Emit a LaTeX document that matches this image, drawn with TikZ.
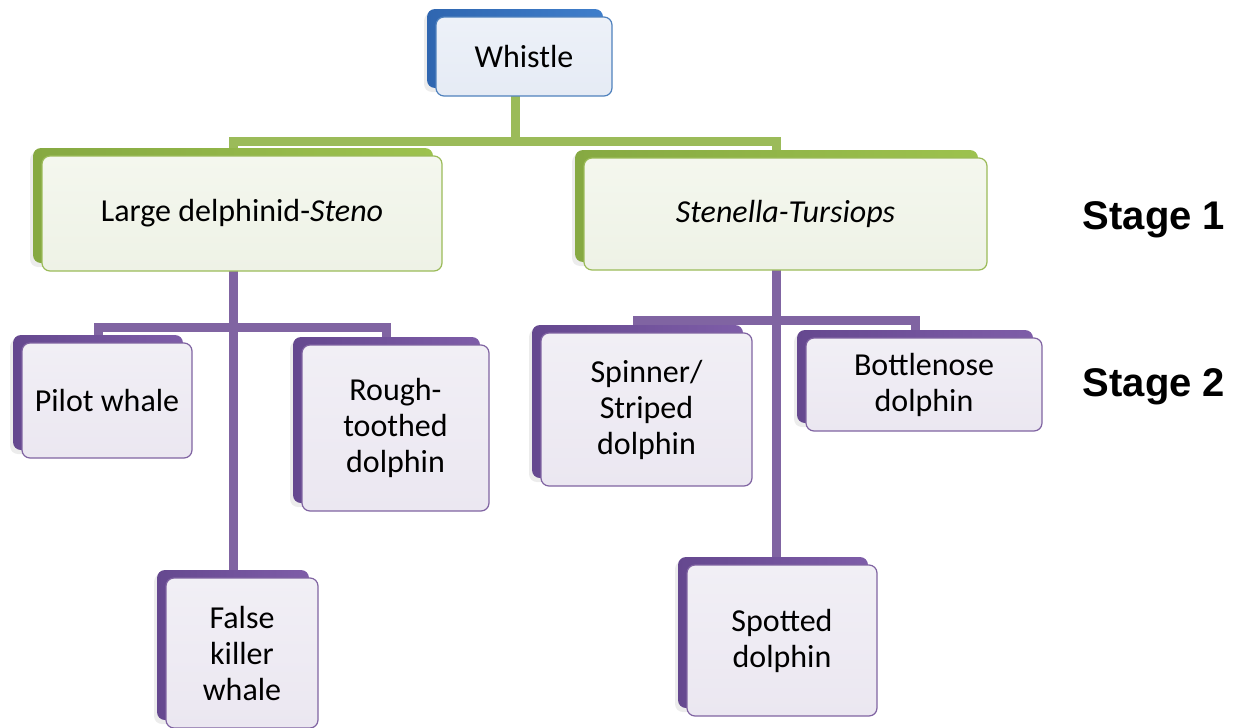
\documentclass[tikz,border=0pt]{standalone}
\usepackage{fontspec}
\setmainfont{Carlito}
\newfontfamily\stagefont{Liberation Sans}
\usetikzlibrary{backgrounds,shadows}
\definecolor{gLine}{HTML}{9BBB59}
\definecolor{pLine}{HTML}{8064A2}
\definecolor{bEdge}{HTML}{4F81BD}
\definecolor{bBackL}{HTML}{2F66B0}
\definecolor{bBackR}{HTML}{3F7ECB}
\definecolor{gBackL}{HTML}{86A942}
\definecolor{gBackR}{HTML}{9DC24E}
\definecolor{pBackL}{HTML}{65488F}
\definecolor{pBackR}{HTML}{7E5DA8}
\definecolor{bFrontT}{HTML}{EDF1F8}
\definecolor{bFrontB}{HTML}{E5EBF5}
\definecolor{gFrontT}{HTML}{F4F7EE}
\definecolor{gFrontB}{HTML}{EEF2E6}
\definecolor{pFrontT}{HTML}{F1EFF5}
\definecolor{pFrontB}{HTML}{EBE7F1}
\begin{document}
\begin{tikzpicture}[x=0.5pt,y=-0.5pt,
  every node/.style={inner sep=0pt, outer sep=0pt},
  backbox/.style={rounded corners=4pt, drop shadow={opacity=0.15, shadow xshift=-1.5pt, shadow yshift=-2pt}},
  bblue/.style={backbox, left color=bBackL, right color=bBackR},
  bgreen/.style={backbox, left color=gBackL, right color=gBackR},
  bpurple/.style={backbox, left color=pBackL, right color=pBackR},
  frontbox/.style={rounded corners=4pt, line width=0.6pt, align=center,
     font=\fontsize{16}{18}\selectfont},
  fblue/.style={frontbox, draw=bEdge, top color=bFrontT, bottom color=bFrontB},
  fgreen/.style={frontbox, draw=gLine, top color=gFrontT, bottom color=gFrontB},
  fpurple/.style={frontbox, draw=pLine, top color=pFrontT, bottom color=pFrontB},
  gline/.style={draw=gLine, line width=4.5pt, line join=miter},
  pline/.style={draw=pLine, line width=4.5pt, line join=miter},
  stage/.style={font=\stagefont\bfseries\fontsize{20}{24}\selectfont}]
\useasboundingbox (0,0) rectangle (1242,728);

% back boxes
\node[bblue,   minimum width=88pt,    minimum height=39.5pt] (whistleB) at (515,48.5) {};
\node[bgreen,  minimum width=200pt,   minimum height=57.5pt] (ldB)      at (233,205.5) {};
\node[bgreen,  minimum width=201.5pt, minimum height=56pt]   (stB)      at (776.5,206) {};
\node[bpurple, minimum width=85pt,    minimum height=57.5pt] (pilotB)   at (98,392.5) {};
\node[bpurple, minimum width=93.5pt,  minimum height=83pt]   (roughB)   at (386.5,420) {};
\node[bpurple, minimum width=76pt,    minimum height=75pt]   (fkwB)     at (233,645) {};
\node[bpurple, minimum width=105.5pt, minimum height=76.5pt] (spinB)    at (637.5,401.5) {};
\node[bpurple, minimum width=118pt,   minimum height=46.5pt] (bottleB)  at (915,376.5) {};
\node[bpurple, minimum width=95pt,    minimum height=75.5pt] (spotB)    at (773,632.5) {};

% front boxes
\node[fblue,   minimum width=88pt,    minimum height=39.5pt] (whistle) at ([shift={(9,8)}]whistleB.center) {Whistle};
\node[fgreen,  minimum width=200pt,   minimum height=57.5pt] (ld)      at ([shift={(9,8)}]ldB.center) {Large delphinid-\textit{Steno}};
\node[fgreen,  minimum width=201.5pt, minimum height=56pt]   (st)      at ([shift={(9,8)}]stB.center) {\textit{Stenella-Tursiops}};
\node[fpurple, minimum width=85pt,    minimum height=57.5pt] (pilot)   at ([shift={(9,8)}]pilotB.center) {Pilot whale};
\node[fpurple, minimum width=93.5pt,  minimum height=83pt]   (rough)   at ([shift={(9,8)}]roughB.center) {Rough-\\toothed\\dolphin};
\node[fpurple, minimum width=76pt,    minimum height=75pt]   (fkw)     at ([shift={(9,8)}]fkwB.center) {False\\killer\\whale};
\node[fpurple, minimum width=105.5pt, minimum height=76.5pt] (spin)    at ([shift={(9,8)}]spinB.center) {Spinner/\\Striped\\dolphin};
\node[fpurple, minimum width=118pt,   minimum height=46.5pt] (bottle)  at ([shift={(9,8)}]bottleB.center) {Bottlenose\\dolphin};
\node[fpurple, minimum width=95pt,    minimum height=75.5pt] (spot)    at ([shift={(9,8)}]spotB.center) {Spotted\\dolphin};

% stage labels
\node[stage] (s1) at (1154,220) {Stage 1};
\node[stage] (s2) at (1154,387) {Stage 2};

% connectors
\coordinate (g1) at (0,141);
\coordinate (p1) at (0,327);
\coordinate (p2) at (0,320);
\begin{scope}[on background layer]
\draw[gline] (whistleB.south) -- (whistleB.south |- g1);
\draw[gline] (ldB.north) -- (ldB.north |- g1) -- (stB.north |- g1) -- (stB.north);
\draw[pline] (pilotB.north) -- (pilotB.north |- p1) -- (roughB.north |- p1) -- (roughB.north);
\draw[pline] (ldB.south) -- (ldB.south |- fkwB.north);
\draw[pline] (spinB.north) -- (spinB.north |- p2) -- (bottleB.north |- p2) -- (bottleB.north);
\draw[pline] (stB.south) -- (stB.south |- spotB.north);
\end{scope}
\end{tikzpicture}
\end{document}
